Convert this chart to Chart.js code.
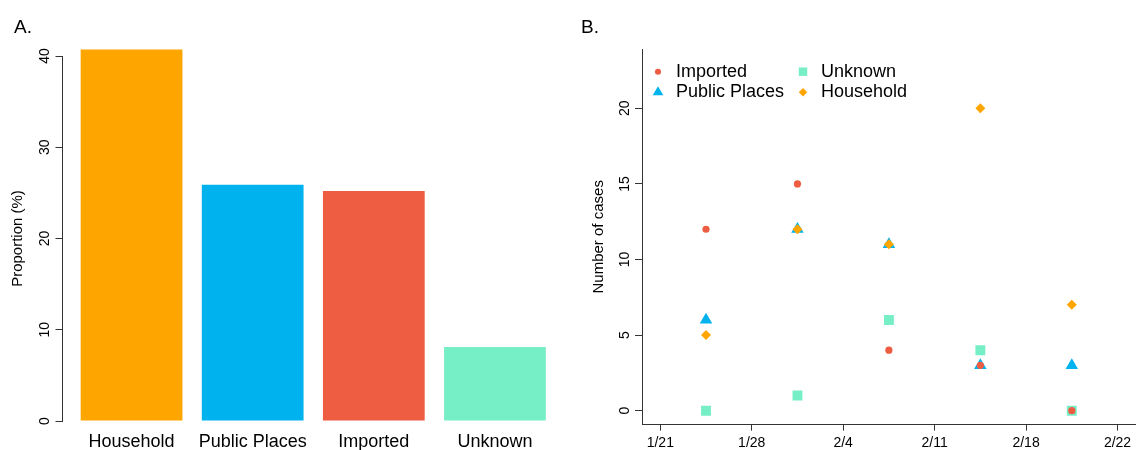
<!DOCTYPE html>
<html>
<head>
<meta charset="utf-8">
<script src="https://cdn.jsdelivr.net/npm/chart.js@4.4.1/dist/chart.umd.min.js"></script>
<style>
  body { margin: 0; background: #fff; }
  #wrap { position: relative; width: 1143px; height: 450px; font-family: "Liberation Sans", Arial, sans-serif; }
  canvas { position: absolute; top: 0; }
  #chartA { left: 0; }
  #chartB { left: 570px; }
  .panel { position: absolute; top: 17px; font-size: 19px; line-height: 1; color: #000; }
</style>
</head>
<body>
<div id="wrap">
  <canvas id="chartA" width="570" height="450"></canvas>
  <canvas id="chartB" width="573" height="450"></canvas>
  <div class="panel" style="left:14px">A.</div>
  <div class="panel" style="left:581px">B.</div>
</div>
<script>
// Panel A: share of cases by source of infection
const sources      = ["Household", "Public Places", "Imported", "Unknown"];
const proportions  = [40.7, 25.9, 25.2, 8.1];
const sourceColors = ["#FFA500", "#00B2EE", "#EE5C42", "#76EEC6"];
const propTicks    = [0, 10, 20, 30, 40];

// Panel B: cases per week (days after 1/21, mid-week)
const weekDays     = [3.5, 10.5, 17.5, 24.5, 31.5];
const imported     = [12, 15, 4, 3, 0];
const publicPlaces = [6, 12, 11, 3, 3];
const unknown      = [0, 1, 6, 4, 0];
const household    = [5, 12, 11, 20, 7];
const dateTickDays   = [0, 7, 14, 21, 28, 35];
const dateTickLabels = ["1/21", "1/28", "2/4", "2/11", "2/18", "2/22"];
const caseTicks      = [0, 5, 10, 15, 20];

Chart.defaults.font.family = '"Liberation Sans", Arial, Helvetica, sans-serif';
Chart.defaults.color = "#000";

const axisColor = "#333";

// helpers to pin the plot box where R put it
const fixWidth  = (w) => (scale) => { scale.width = w; };
const fixHeight = (h) => (scale) => { scale.height = h; };
const setTicks  = (values) => (scale) => { scale.ticks = values.map((v) => ({ value: v })); };

new Chart(document.getElementById("chartA"), {
  type: "bar",
  data: {
    datasets: [{
      data: sources.map((s, i) => ({ x: i, y: proportions[i] })),
      backgroundColor: sourceColors,
      borderWidth: 0,
      barPercentage: 0.84,
      categoryPercentage: 1,
      clip: false,
    }],
  },
  options: {
    responsive: false,
    animation: false,
    layout: { padding: { top: 56, right: 6, left: 0, bottom: 0 } },
    plugins: { legend: { display: false }, tooltip: { enabled: false } },
    scales: {
      x: {
        type: "linear",
        min: -0.57,
        max: 3.57,
        offset: false,
        afterBuildTicks: setTicks(sources.map((s, i) => i)),
        afterFit: fixHeight(29),
        grid: { display: false, drawTicks: false, offset: false },
        border: { display: false },
        ticks: {
          callback: (v) => sources[v],
          font: { size: 18 },
          padding: 10,
          autoSkip: false,
          maxRotation: 0,
        },
      },
      y: {
        min: 0,
        max: 40,
        afterBuildTicks: setTicks(propTicks),
        afterFit: fixWidth(62.5),
        grid: { drawOnChartArea: false, tickLength: 7, color: axisColor },
        border: { color: axisColor, width: 1 },
        ticks: { font: { size: 14 }, minRotation: 90, maxRotation: 90, crossAlign: "center", padding: 3 },
        title: { display: true, text: "Proportion (%)", font: { size: 15 }, padding: 9 },
      },
    },
  },
});

// 2x2 legend laid out column-first, like R's legend(ncol = 2)
const gridLegend = {
  id: "gridLegend",
  afterDatasetsDraw(chart, args, opts) {
    const { ctx, chartArea } = chart;
    ctx.save();
    ctx.font = opts.fontSize + 'px "Liberation Sans", Arial, sans-serif';
    ctx.textBaseline = "middle";
    ctx.textAlign = "left";
    chart.data.datasets.forEach((ds, i) => {
      const col = Math.floor(i / opts.rows);
      const row = i % opts.rows;
      const x = chartArea.left + opts.left + col * opts.colWidth;
      const y = chartArea.top + opts.top + row * opts.rowHeight;
      ctx.fillStyle = ds.backgroundColor;
      Chart.helpers.drawPoint(ctx, {
        pointStyle: ds.pointStyle,
        rotation: 0,
        radius: ds.pointRadius * opts.markerScale,
        borderWidth: 0,
      }, x, y);
      ctx.fillStyle = "#000";
      ctx.fillText(ds.label, x + opts.textGap, y);
    });
    ctx.restore();
  },
};

const seriesB = [
  { label: "Imported",      values: imported,     color: "#EE5C42", style: "circle",   radius: 3.6, order: 2 },
  { label: "Public Places", values: publicPlaces, color: "#00B2EE", style: "triangle", radius: 7.2, order: 3 },
  { label: "Unknown",       values: unknown,      color: "#76EEC6", style: "rect",     radius: 7,   order: 4 },
  { label: "Household",     values: household,    color: "#FFA500", style: "rectRot",  radius: 5,   order: 1 },
];

new Chart(document.getElementById("chartB"), {
  type: "scatter",
  data: {
    datasets: seriesB.map((s) => ({
      label: s.label,
      data: weekDays.map((d, i) => ({ x: d, y: s.values[i] })),
      backgroundColor: s.color,
      pointStyle: s.style,
      pointRadius: s.radius,
      pointBorderWidth: 0,
      order: s.order,
    })),
  },
  plugins: [gridLegend],
  options: {
    responsive: false,
    animation: false,
    layout: { padding: { top: 49, right: 0, left: 0, bottom: 0 } },
    plugins: {
      legend: { display: false },
      tooltip: { enabled: false },
      gridLegend: { rows: 2, left: 16, top: 22.7, colWidth: 145, rowHeight: 20.6, textGap: 18, fontSize: 18, markerScale: 0.85 },
    },
    scales: {
      x: {
        type: "linear",
        min: -1.4,
        max: 36.4,
        afterBuildTicks: setTicks(dateTickDays),
        afterFit: fixHeight(25.4),
        grid: { drawOnChartArea: false, tickLength: 6, color: axisColor },
        border: { color: axisColor, width: 1 },
        ticks: {
          callback: (v) => dateTickLabels[dateTickDays.indexOf(v)],
          font: { size: 14 },
          padding: 4,
          autoSkip: false,
          maxRotation: 0,
        },
      },
      y: {
        min: -0.92,
        max: 23.92,
        afterBuildTicks: setTicks(caseTicks),
        afterFit: fixWidth(72),
        grid: { drawOnChartArea: false, tickLength: 7, color: axisColor },
        border: { color: axisColor, width: 1 },
        ticks: { font: { size: 14 }, minRotation: 90, maxRotation: 90, crossAlign: "center", padding: 2 },
        title: { display: true, text: "Number of cases", font: { size: 15 }, padding: 20 },
      },
    },
  },
});
</script>
</body>
</html>
